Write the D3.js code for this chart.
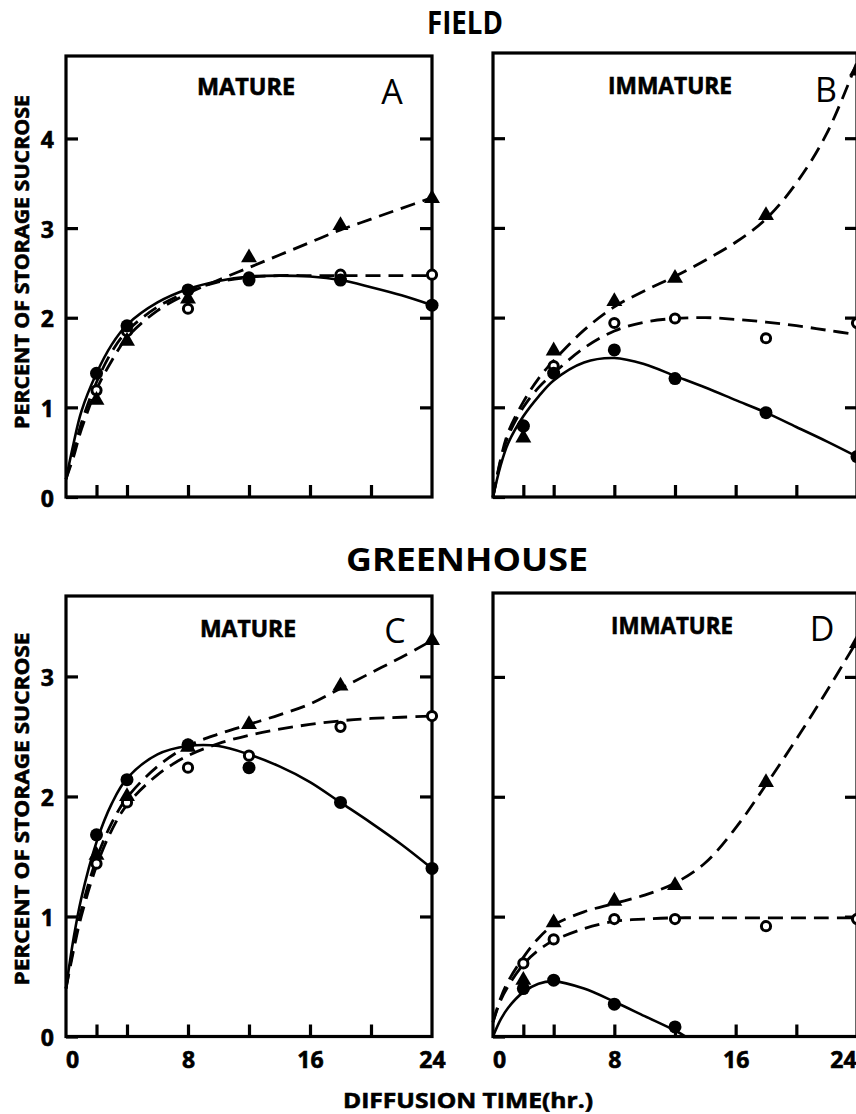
<!DOCTYPE html>
<html><head><meta charset="utf-8">
<script src="https://cdn.jsdelivr.net/npm/d3@7"></script>
<style>html,body{margin:0;padding:0;background:#fff;} svg{display:block;}</style>
</head><body>
<script>
// ---------------- data ----------------
const hours = [2, 4, 8, 12, 18, 24];
const hoursDFilled = [2, 4, 8, 12];
const curveHours = [0, 0.5, 1, 2, 3, 4, 6, 8, 10, 12, 14, 16, 18, 20, 22, 24];
const curveHoursDSolid = [0, 0.5, 1, 2, 3, 4, 6, 8, 10, 12, 12.7];
const xTicks = [2, 4, 8, 12, 16, 20];
const xTickLabels = [0, 8, 16, 24];
const yLabelsField = [0, 1, 2, 3, 4];
const yLabelsGreen = [0, 1, 2, 3];
const groupTitles = ["FIELD", "GREENHOUSE"];
const panelNames = ["MATURE", "IMMATURE", "MATURE", "IMMATURE"];
const panelLetters = ["A", "B", "C", "D"];
const yTitle = "PERCENT OF STORAGE SUCROSE";
const xTitle = "DIFFUSION TIME(hr.)";

// Panel A – field, mature
const aFilled = [1.38, 1.91, 2.31, 2.42, 2.42, 2.14];
const aOpen   = [1.19, 1.85, 2.10, 2.45, 2.48, 2.48];
const aTri    = [1.08, 1.74, 2.21, 2.67, 3.03, 3.33];
const aSolidCurve = [0.2, 0.6, 0.95, 1.38, 1.70, 1.92, 2.17, 2.32, 2.41, 2.46, 2.47, 2.46, 2.42, 2.34, 2.25, 2.14];
const aOpenCurve  = [0.2, 0.5, 0.82, 1.28, 1.62, 1.85, 2.12, 2.29, 2.40, 2.45, 2.47, 2.47, 2.47, 2.47, 2.47, 2.47];
const aTriCurve   = [0.2, 0.45, 0.75, 1.20, 1.52, 1.78, 2.08, 2.27, 2.42, 2.56, 2.70, 2.84, 2.98, 3.10, 3.22, 3.34];

// Panel B – field, immature
const bFilled = [0.79, 1.38, 1.64, 1.32, 0.94, 0.45];
const bOpen   = [0.80, 1.46, 1.94, 1.99, 1.77, 1.94];
const bTri    = [0.66, 1.63, 2.18, 2.44, 3.14, 4.75];
const bSolidCurve = [0, 0.35, 0.60, 0.90, 1.12, 1.30, 1.50, 1.55, 1.48, 1.35, 1.22, 1.08, 0.94, 0.78, 0.62, 0.45];
const bOpenCurve  = [0, 0.40, 0.68, 1.00, 1.22, 1.38, 1.66, 1.85, 1.95, 1.99, 2.00, 1.98, 1.95, 1.91, 1.86, 1.81];
const bTriCurve   = [0, 0.42, 0.72, 1.06, 1.32, 1.52, 1.86, 2.12, 2.30, 2.46, 2.64, 2.84, 3.10, 3.50, 4.05, 4.85];

// Panel C – greenhouse, mature
const cFilled = [1.68, 2.14, 2.43, 2.24, 1.95, 1.40];
const cOpen   = [1.44, 1.95, 2.24, 2.34, 2.58, 2.67];
const cTri    = [1.51, 2.00, 2.41, 2.60, 2.92, 3.30];
const cSolidCurve = [0.4, 0.82, 1.15, 1.62, 1.94, 2.15, 2.35, 2.42, 2.42, 2.35, 2.25, 2.12, 1.95, 1.78, 1.60, 1.40];
const cOpenCurve  = [0.4, 0.72, 1.00, 1.42, 1.72, 1.93, 2.18, 2.34, 2.44, 2.51, 2.56, 2.60, 2.63, 2.65, 2.66, 2.67];
const cTriCurve   = [0.4, 0.75, 1.05, 1.48, 1.78, 1.99, 2.25, 2.42, 2.52, 2.60, 2.68, 2.77, 2.90, 3.03, 3.16, 3.30];

// Panel D – greenhouse, immature
const dFilled = [0.40, 0.47, 0.27, 0.08];
const dOpen   = [0.61, 0.81, 0.98, 0.98, 0.92, 0.98];
const dTri    = [0.47, 0.95, 1.13, 1.26, 2.12, 3.28];
const dSolidCurve = [0, 0.14, 0.24, 0.37, 0.44, 0.46, 0.40, 0.29, 0.17, 0.05, 0];
const dOpenCurve  = [0.12, 0.30, 0.42, 0.60, 0.72, 0.80, 0.90, 0.96, 0.98, 0.99, 0.99, 0.99, 0.99, 0.99, 0.99, 0.99];
const dTriCurve   = [0.12, 0.32, 0.46, 0.66, 0.82, 0.93, 1.04, 1.11, 1.18, 1.28, 1.45, 1.74, 2.10, 2.48, 2.88, 3.30];

// ---------------- layout ----------------
const W = 856, H = 1114;
const FONT = "'Open Sans', 'DejaVu Sans', sans-serif";
const svg = d3.select("body").append("svg").attr("width", W).attr("height", H)
  .style("background", "#fff");

const panels = [
  {x0: 66,  x1: 432, y0: 497,    yMax: 4.92, yTop: 56,  labels: yLabelsField, showY: true,  showX: false,
   filled: aFilled, fHours: hours, open: aOpen, tri: aTri,
   solid: aSolidCurve, sHours: curveHours, openC: aOpenCurve, triC: aTriCurve,
   name: panelNames[0], nameX: 246, nameY: 95, nameLen: 98, letter: panelLetters[0], letX: 392, letY: 104},
  {x0: 493, x1: 857, y0: 497,    yMax: 4.95, yTop: 53,  labels: yLabelsField, showY: false, showX: false,
   filled: bFilled, fHours: hours, open: bOpen, tri: bTri,
   solid: bSolidCurve, sHours: curveHours, openC: bOpenCurve, triC: bTriCurve,
   name: panelNames[1], nameX: 670, nameY: 94, nameLen: 124, letter: panelLetters[1], letX: 826, letY: 102},
  {x0: 66,  x1: 432, y0: 1036.5, yMax: 3.67, yTop: 596, labels: yLabelsGreen, showY: true,  showX: true,
   filled: cFilled, fHours: hours, open: cOpen, tri: cTri,
   solid: cSolidCurve, sHours: curveHours, openC: cOpenCurve, triC: cTriCurve,
   name: panelNames[2], nameX: 248, nameY: 637, nameLen: 96, letter: panelLetters[2], letX: 395, letY: 643},
  {x0: 493, x1: 857, y0: 1036.5, yMax: 3.70, yTop: 593, labels: yLabelsGreen, showY: false, showX: true,
   filled: dFilled, fHours: hoursDFilled, open: dOpen, tri: dTri,
   solid: dSolidCurve, sHours: curveHoursDSolid, openC: dOpenCurve, triC: dTriCurve,
   name: panelNames[3], nameX: 672, nameY: 634, nameLen: 122, letter: panelLetters[3], letX: 822, letY: 641}
];

const tri = d3.symbol().type(d3.symbolTriangle).size(110);
const heavy = sel => sel.attr("stroke", "#000").attr("stroke-width", 0.6).attr("paint-order", "stroke");

panels.forEach((p, pi) => {
  const x = d3.scaleLinear().domain([0, 24]).range([p.x0, p.x1]);
  const y = d3.scaleLinear().domain([0, p.yMax]).range([p.y0, p.yTop]);
  const g = svg.append("g");

  // frame
  g.append("rect").attr("x", p.x0).attr("y", p.yTop)
    .attr("width", p.x1 - p.x0).attr("height", p.y0 - p.yTop)
    .attr("fill", "none").attr("stroke", "#000").attr("stroke-width", 3.2);

  // axes (inward ticks)
  const left = g.append("g").attr("transform", `translate(${p.x0},0)`)
    .call(d3.axisLeft(y).tickValues(p.labels).tickSize(-12).tickPadding(12)
      .tickFormat(p.showY ? d3.format("d") : () => ""));
  const right = g.append("g").attr("transform", `translate(${p.x1},0)`)
    .call(d3.axisRight(y).tickValues(p.labels.slice(1)).tickSize(-12).tickFormat(() => ""));
  const bottom = g.append("g").attr("transform", `translate(0,${p.y0})`)
    .call(d3.axisBottom(x).tickValues(xTicks).tickSize(-12).tickFormat(() => ""));
  [left, right, bottom].forEach(a => {
    a.select(".domain").remove();
    a.selectAll(".tick line").attr("stroke", "#000").attr("stroke-width", 3.2);
    a.selectAll("text").attr("font-family", FONT).attr("font-size", 23)
      .attr("font-weight", 700).attr("fill", "#000").call(heavy);
  });
  left.selectAll(".tick text").attr("dy", "0.40em");

  if (p.showX) {
    const bl = g.append("g").attr("transform", `translate(0,${p.y0})`)
      .call(d3.axisBottom(x).tickValues(xTickLabels).tickSize(0).tickPadding(0)
        .tickFormat(d3.format("d")));
    bl.select(".domain").remove();
    bl.selectAll("text").attr("font-family", FONT).attr("font-size", 23)
      .attr("font-weight", 700).attr("fill", "#000").call(heavy)
      .attr("y", 31).attr("dy", 0)
      .attr("dx", d => d === 0 ? 6 : (d === 24 && pi === 3 ? -14 : 0));
  }

  // curves
  const line = (hs, vs) => d3.line().curve(d3.curveCatmullRom.alpha(0.5))
    .x((d, i) => x(hs[i])).y(d => y(d))(vs);
  g.append("path").attr("d", line(curveHours, p.triC))
    .attr("fill", "none").attr("stroke", "#000").attr("stroke-width", 2.8)
    .attr("stroke-dasharray", "15,8");
  g.append("path").attr("d", line(curveHours, p.openC))
    .attr("fill", "none").attr("stroke", "#000").attr("stroke-width", 2.8)
    .attr("stroke-dasharray", "15,8");
  g.append("path").attr("d", line(p.sHours, p.solid))
    .attr("fill", "none").attr("stroke", "#000").attr("stroke-width", 2.6);

  // markers
  g.selectAll(".open").data(p.open).join("circle")
    .attr("cx", (d, i) => x(hours[i])).attr("cy", d => y(d)).attr("r", 4.6)
    .attr("fill", "#fff").attr("stroke", "#000").attr("stroke-width", 3);
  g.selectAll(".tri").data(p.tri).join("path")
    .attr("d", tri).attr("transform", (d, i) => `translate(${x(hours[i])},${y(d)})`)
    .attr("fill", "#000");
  g.selectAll(".filled").data(p.filled).join("circle")
    .attr("cx", (d, i) => x(p.fHours[i])).attr("cy", d => y(d)).attr("r", 6.5)
    .attr("fill", "#000");

  // panel texts
  g.append("text").attr("x", p.nameX).attr("y", p.nameY).attr("text-anchor", "middle")
    .attr("font-family", FONT).attr("font-weight", 700).attr("font-size", 23)
    .attr("textLength", p.nameLen).attr("lengthAdjust", "spacingAndGlyphs").call(heavy).text(p.name);
  g.append("text").attr("x", p.letX).attr("y", p.letY).attr("text-anchor", "middle")
    .attr("font-family", FONT).attr("font-weight", 500).attr("font-size", 34)
    .text(p.letter);
});

// group titles
svg.append("text").attr("x", 465).attr("y", 34).attr("text-anchor", "middle")
  .attr("font-family", FONT).attr("font-weight", 700).attr("font-size", 31.5)
  .attr("textLength", 76).attr("lengthAdjust", "spacingAndGlyphs").text(groupTitles[0]);
svg.append("text").attr("x", 467).attr("y", 571).attr("text-anchor", "middle")
  .attr("font-family", FONT).attr("font-weight", 700).attr("font-size", 32)
  .attr("textLength", 242).attr("lengthAdjust", "spacingAndGlyphs").text(groupTitles[1]);

// y titles
[[262, 334], [809, 353]].forEach(([cy, len]) => {
  svg.append("text").attr("transform", `translate(29,${cy}) rotate(-90)`)
    .attr("text-anchor", "middle").attr("font-family", FONT).attr("font-weight", 700)
    .attr("font-size", 20).attr("textLength", len).attr("lengthAdjust", "spacingAndGlyphs")
    .call(heavy).text(yTitle);
});

// x title
svg.append("text").attr("x", 468).attr("y", 1108).attr("text-anchor", "middle")
  .attr("font-family", FONT).attr("font-weight", 700).attr("font-size", 22)
  .attr("textLength", 250).attr("lengthAdjust", "spacingAndGlyphs").call(heavy).text(xTitle);
</script>
</body></html>
